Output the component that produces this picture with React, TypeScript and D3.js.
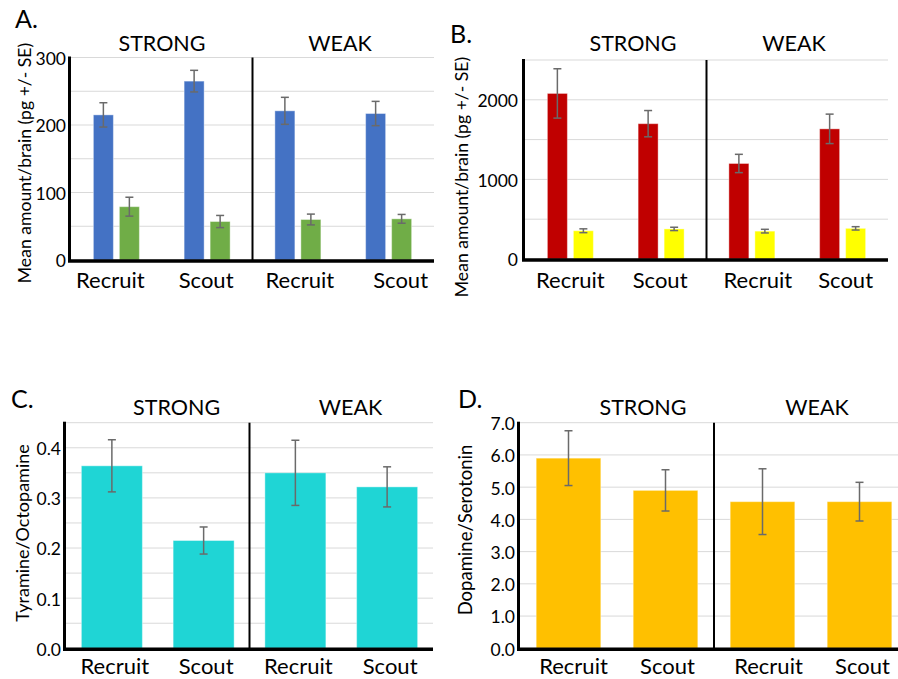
import React from "react";
import * as d3 from "d3";

// ---------- data ----------
const categories = ["Recruit", "Scout", "Recruit", "Scout"];
const groups = ["STRONG", "WEAK"];

// Panel A (pg/brain)
const aBlue = [215, 265, 221, 217];
const aBlueSE = [18, 16, 20, 18];
const aGreen = [79, 57, 60, 61];
const aGreenSE = [14, 9, 8, 6.5];
const aTicks = [0, 100, 200, 300];

// Panel B (pg/brain)
const bRed = [2080, 1700, 1200, 1635];
const bRedSE = [310, 165, 115, 185];
const bYellow = [355, 378, 350, 385];
const bYellowSE = [24, 21, 23, 21];
const bTicks = [0, 1000, 2000];

// Panel C (Tyramine/Octopamine)
const cRatio = [0.364, 0.215, 0.35, 0.322];
const cRatioSE = [0.052, 0.027, 0.065, 0.04];
const cTicks = [0, 0.1, 0.2, 0.3, 0.4];

// Panel D (Dopamine/Serotonin)
const dRatio = [5.9, 4.9, 4.55, 4.55];
const dRatioSE = [0.85, 0.64, 1.02, 0.6];
const dTicks = [0, 1, 2, 3, 4, 5, 6, 7];

// ---------- layout ----------
type Series = { values: number[]; se: number[]; color: string };
type Cfg = {
  letter: string;
  letterX: number;
  letterY: number;
  xL: number;
  xR: number;
  yBase: number;
  yTop: number;
  yMax: number;
  gridStep: number;
  ticks: number[];
  fmt: (v: number) => string;
  tickX: number;
  series: Series[];
  groupFrac: number;
  barFrac: number;
  titleX: number[];
  titleY: number;
  labelDx: number[];
  labelY: number;
  yLabel: string;
  yLabelX: number;
  yLabelY: number;
  yLabelSize: number;
};

const FONT = "Lato, 'Open Sans', sans-serif";

const panels: Cfg[] = [
  {
    letter: "A.",
    letterX: 15,
    letterY: 28,
    xL: 71,
    xR: 434,
    yBase: 260,
    yTop: 57.5,
    yMax: 300,
    gridStep: 50,
    ticks: aTicks,
    fmt: d3.format("d"),
    tickX: 66,
    series: [
      { values: aBlue, se: aBlueSE, color: "#4472C4" },
      { values: aGreen, se: aGreenSE, color: "#70AD47" },
    ],
    groupFrac: 46 / 90.75,
    barFrac: 20 / 46,
    titleX: [162, 340],
    titleY: 51,
    labelDx: [-6, -1, 2, 12],
    labelY: 288,
    yLabel: "Mean amount/brain (pg +/- SE)",
    yLabelX: 25,
    yLabelY: 163,
    yLabelSize: 17.6,
  },
  {
    letter: "B.",
    letterX: 450,
    letterY: 43,
    xL: 525,
    xR: 888,
    yBase: 259,
    yTop: 60,
    yMax: 2500,
    gridStep: 500,
    ticks: bTicks,
    fmt: d3.format("d"),
    tickX: 518,
    series: [
      { values: bRed, se: bRedSE, color: "#C00000" },
      { values: bYellow, se: bYellowSE, color: "#FFFF00" },
    ],
    groupFrac: 46 / 90.75,
    barFrac: 20 / 46,
    titleX: [633, 794],
    titleY: 51,
    labelDx: [0, -1, 6, 3],
    labelY: 288,
    yLabel: "Mean amount/brain (pg +/- SE)",
    yLabelX: 462,
    yLabelY: 177,
    yLabelSize: 17.6,
  },
  {
    letter: "C.",
    letterX: 11,
    letterY: 408,
    xL: 66,
    xR: 433,
    yBase: 648.3,
    yTop: 422.7,
    yMax: 0.45,
    gridStep: 0.05,
    ticks: cTicks,
    fmt: d3.format(".1f"),
    tickX: 61,
    series: [{ values: cRatio, se: cRatioSE, color: "#1FD5D5" }],
    groupFrac: 61 / 91.75,
    barFrac: 1,
    titleX: [176.6, 350.5],
    titleY: 415,
    labelDx: [3, 2.5, 3, 3],
    labelY: 674,
    yLabel: "Tyramine/Octopamine",
    yLabelX: 23,
    yLabelY: 533,
    yLabelSize: 18,
  },
  {
    letter: "D.",
    letterX: 458,
    letterY: 408,
    xL: 520,
    xR: 908,
    yBase: 648.3,
    yTop: 422.7,
    yMax: 7,
    gridStep: 1,
    ticks: dTicks,
    fmt: d3.format(".1f"),
    tickX: 515,
    series: [{ values: dRatio, se: dRatioSE, color: "#FFC000" }],
    groupFrac: 64.7 / 97.1,
    barFrac: 1,
    titleX: [643, 817],
    titleY: 415,
    labelDx: [5, 2, 6, 3],
    labelY: 674,
    yLabel: "Dopamine/Serotonin",
    yLabelX: 466,
    yLabelY: 530,
    yLabelSize: 18.5,
  },
];

function Panel({ cfg }: { cfg: Cfg }) {
  const idx = d3.range(categories.length).map(String);
  const x = d3.scaleBand<string>().domain(idx).range([cfg.xL, cfg.xR]).padding(0);
  const y = d3.scaleLinear().domain([0, cfg.yMax]).range([cfg.yBase, cfg.yTop]);
  const bw = x.bandwidth();
  const groupW = bw * cfg.groupFrac;
  const nS = cfg.series.length;
  const barW = nS > 1 ? groupW * cfg.barFrac : groupW;
  const gap = nS > 1 ? (groupW - nS * barW) / (nS - 1) : 0;
  const inner = d3
    .scaleBand<string>()
    .domain(d3.range(nS).map(String))
    .range([-groupW / 2, groupW / 2])
    .paddingInner(nS > 1 ? gap / (gap + barW) : 0);
  const grid = d3.range(0, cfg.yMax + cfg.gridStep / 2, cfg.gridStep);
  const divX = (x("1")! + bw + x("2")!) / 2;
  const cap = 4;

  return (
    <g>
      <text x={cfg.letterX} y={cfg.letterY} fontFamily={FONT} fontSize={25} fill="#000">
        {cfg.letter}
      </text>
      {grid.map((g, i) => (
        <line key={"g" + i} x1={cfg.xL} x2={cfg.xR} y1={y(g)} y2={y(g)} stroke="#d9d9d9" strokeWidth={1} />
      ))}
      {cfg.ticks.map((t, i) => (
        <text
          key={"t" + i}
          x={cfg.tickX}
          y={y(t)}
          dy="0.42em"
          textAnchor="end"
          fontFamily={FONT}
          fontSize={17.5}
          fill="#000"
        >
          {cfg.fmt(t)}
        </text>
      ))}
      {cfg.series.map((s, si) =>
        s.values.map((v, ci) => {
          const cx = x(String(ci))! + bw / 2 + inner(String(si))!;
          return (
            <rect
              key={"b" + si + "-" + ci}
              x={cx}
              y={y(v)}
              width={inner.bandwidth()}
              height={y(0) - y(v)}
              fill={s.color}
              stroke="rgba(255,255,255,0.4)"
              strokeWidth={1}
            />
          );
        })
      )}
      {cfg.series.map((s, si) =>
        s.values.map((v, ci) => {
          const mx = x(String(ci))! + bw / 2 + inner(String(si))! + inner.bandwidth() / 2;
          const hi = y(v + s.se[ci]);
          const lo = y(v - s.se[ci]);
          return (
            <g key={"e" + si + "-" + ci} stroke="#6a6a6a" strokeWidth={1.5}>
              <line x1={mx} x2={mx} y1={hi} y2={lo} />
              <line x1={mx - cap} x2={mx + cap} y1={hi} y2={hi} />
              <line x1={mx - cap} x2={mx + cap} y1={lo} y2={lo} />
            </g>
          );
        })
      )}
      <line x1={divX} x2={divX} y1={cfg.yTop} y2={cfg.yBase} stroke="#000" strokeWidth={2} />
      <line x1={cfg.xL - 1.5} x2={cfg.xL - 1.5} y1={cfg.yTop - 1} y2={cfg.yBase + 2} stroke="#000" strokeWidth={3} />
      <line x1={cfg.xL - 3} x2={cfg.xR} y1={cfg.yBase + 1} y2={cfg.yBase + 1} stroke="#000" strokeWidth={3.5} />
      {groups.map((g, i) => (
        <text
          key={"h" + i}
          x={cfg.titleX[i]}
          y={cfg.titleY}
          textAnchor="middle"
          fontFamily={FONT}
          fontSize={21.5}
          fill="#000"
        >
          {g}
        </text>
      ))}
      {categories.map((c, i) => (
        <text
          key={"c" + i}
          x={x(String(i))! + bw / 2 + cfg.labelDx[i]}
          y={cfg.labelY}
          textAnchor="middle"
          fontFamily={FONT}
          fontSize={22}
          fill="#000"
        >
          {c}
        </text>
      ))}
      <text
        transform={`translate(${cfg.yLabelX},${cfg.yLabelY}) rotate(-90)`}
        textAnchor="middle"
        dy="0.35em"
        fontFamily={FONT}
        fontSize={cfg.yLabelSize}
        fill="#000"
      >
        {cfg.yLabel}
      </text>
    </g>
  );
}

export default function App() {
  return (
    <svg
      width={898}
      height={679}
      style={{ position: "absolute", left: 0, top: 0, background: "#fff" }}
    >
      <rect x={0} y={0} width={898} height={679} fill="#fff" />
      {panels.map((p, i) => (
        <Panel key={i} cfg={p} />
      ))}
    </svg>
  );
}
